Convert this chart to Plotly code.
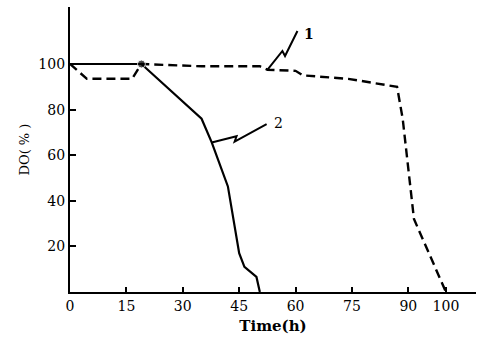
import plotly.graph_objects as go

# Curve 1 (dashed)
time_1 = [0, 4.5, 16.5, 19, 35, 50.5, 52.5, 60, 62, 74, 87, 88.5, 91.5, 100]
do_1 = [100, 93.5, 93.5, 100, 99, 99, 97.5, 97, 95, 93.5, 90, 76, 32, 0]

# Curve 2 (solid)
time_2 = [0, 19, 35, 37.7, 42, 45, 46.4, 49.6, 50.5]
do_2 = [100, 100, 76, 65.6, 46.3, 17, 11, 6.6, 0]

x_ticks = [0, 15, 30, 45, 60, 75, 90, 100]
y_ticks = [20, 40, 60, 80, 100]

# curve labels with zig-zag leader lines (data coords)
label_1 = {"text": "<b>1</b>", "x": 63.5, "y": 113}
leader_1_x = [52.5, 56.5, 57.2, 60.5]
leader_1_y = [97.4, 105.7, 103.5, 114.5]
label_2 = {"text": "2", "x": 55.5, "y": 74}
leader_2_x = [37.7, 44.3, 43.8, 52.3]
leader_2_y = [65.6, 68.3, 66, 73.6]

FONT = "DejaVu Serif"

fig = go.Figure()
fig.add_trace(go.Scatter(
    x=time_1, y=do_1, mode="lines",
    line=dict(color="black", width=2.4, dash="9px,5px"),
    showlegend=False,
))
fig.add_trace(go.Scatter(
    x=time_2, y=do_2, mode="lines+markers",
    line=dict(color="black", width=2.2),
    marker=dict(color="black", size=[0, 8, 0, 0, 0, 0, 0, 0, 0]),
    showlegend=False,
))

for lx, ly in ((leader_1_x, leader_1_y), (leader_2_x, leader_2_y)):
    path = "M " + " L ".join(f"{a},{b}" for a, b in zip(lx, ly))
    fig.add_shape(type="path", path=path, xref="x", yref="y",
                  line=dict(color="black", width=2))

for lab in (label_1, label_2):
    fig.add_annotation(x=lab["x"], y=lab["y"], text=lab["text"], showarrow=False,
                       font=dict(family=FONT, size=14, color="black"), xanchor="center")

fig.update_layout(
    width=480, height=348,
    margin=dict(l=70, r=4, t=7, b=56),
    paper_bgcolor="white", plot_bgcolor="white",
    font=dict(family=FONT, size=14, color="black"),
)
fig.update_xaxes(
    range=[0, 108], tickvals=x_ticks, ticktext=[str(v) for v in x_ticks],
    tickfont=dict(family=FONT, size=14),
    ticks="inside", ticklen=5, tickwidth=1.5, tickcolor="black",
    showline=True, linecolor="black", linewidth=2.2, showgrid=False, zeroline=False,
    title=dict(text="<b>Time(h)</b>", font=dict(family=FONT, size=15), standoff=8),
)
fig.update_yaxes(
    range=[0, 125], tickvals=y_ticks, ticktext=[str(v) for v in y_ticks],
    tickfont=dict(family=FONT, size=14),
    ticks="inside", ticklen=6, tickwidth=1.5, tickcolor="black",
    showline=True, linecolor="black", linewidth=2.2, showgrid=False, zeroline=False,
    title=dict(text="DO( % )", font=dict(family=FONT, size=13), standoff=6),
)

fig.write_html("out.html", config={"displayModeBar": False},
               post_script="document.body.style.margin='0';")
